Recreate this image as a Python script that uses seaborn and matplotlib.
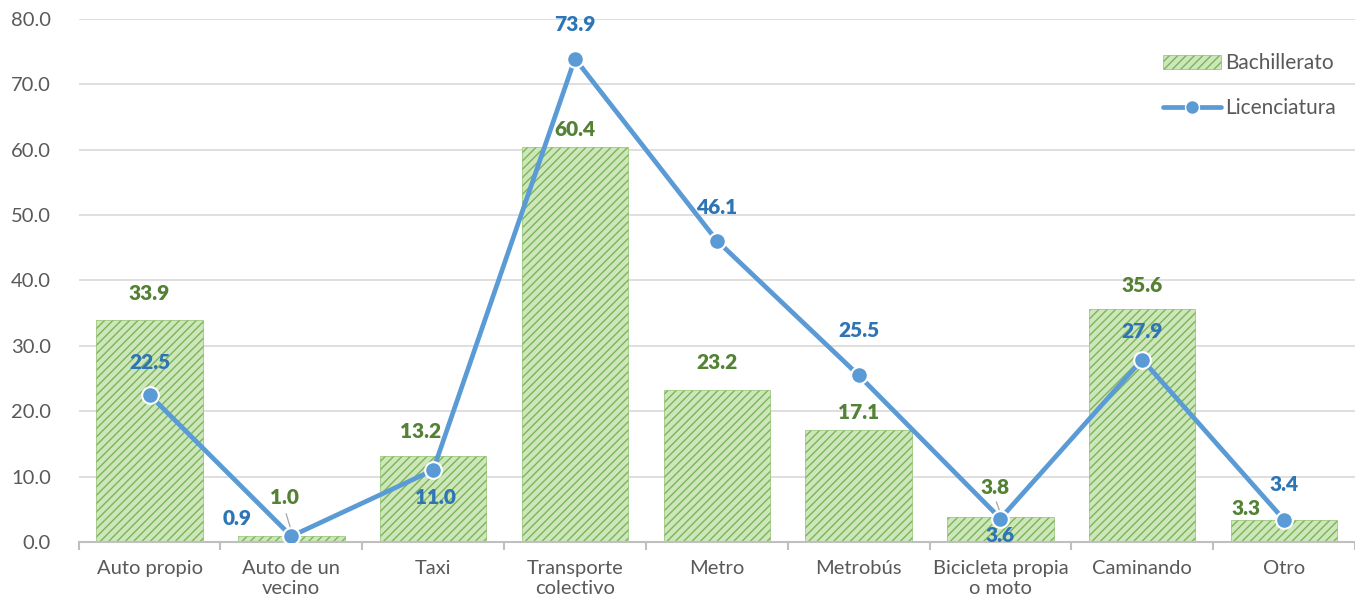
"""
Medio de transporte: Bachillerato vs Licenciatura
"""
import numpy as np
import pandas as pd
import matplotlib
matplotlib.use("Agg")
import matplotlib.pyplot as plt
import seaborn as sns
from matplotlib.patches import Patch
from matplotlib.lines import Line2D

# data
categories = ["Auto propio", "Auto de un\nvecino", "Taxi", "Transporte\ncolectivo", "Metro",
              "Metrobús", "Bicicleta propia\no moto", "Caminando", "Otro"]
bachillerato = [33.9, 1.0, 13.2, 60.4, 23.2, 17.1, 3.8, 35.6, 3.3]
licenciatura = [22.5, 0.9, 11.0, 73.9, 46.1, 25.5, 3.6, 27.9, 3.4]
y_ticks = [0, 10, 20, 30, 40, 50, 60, 70, 80]

# label offsets in pixels (dx, dy)
bach_offsets = [(0, 27), (-7, 38), (-13, 24), (0, 17), (0, 28), (0, 18), (-5, 30), (0, 24), (-38, 12)]
lic_offsets = [(0, 32), (-54, 18), (2, -27), (0, 34), (0, 33), (0, 45), (0, -17), (0, 28), (0, 35)]

BAR_FILL = "#cde6bb"
BAR_HATCH = "#7cb556"
LINE_COLOR = "#5b9bd5"
GREEN_TXT = "#548235"
BLUE_TXT = "#2e75b6"
GRAY_TXT = "#595959"
HATCH = "////"

sns.set_theme(style="white")
plt.rcParams["font.family"] = ["Lato", "DejaVu Sans"]
plt.rcParams["hatch.linewidth"] = 1.0

df = pd.DataFrame({"cat": categories, "bach": bachillerato, "lic": licenciatura})
x = np.arange(len(categories))

fig = plt.figure(figsize=(13.55, 6.05), dpi=100)
ax = fig.add_axes([0.058, 0.104, 0.942, 0.865])

sns.barplot(data=df, x="cat", y="bach", color=BAR_FILL, saturation=1, width=0.75, ax=ax, zorder=2)
for p in ax.patches:
    p.set_hatch(HATCH)
    p.set_edgecolor(BAR_HATCH)
    p.set_linewidth(0.4)

sns.lineplot(x=x, y=df["lic"], sort=False, color=LINE_COLOR, linewidth=3.4, marker="o",
             markersize=12, markerfacecolor=LINE_COLOR, markeredgecolor="white",
             markeredgewidth=1.5, ax=ax, zorder=4)

for i, v in enumerate(bachillerato):
    ax.annotate(f"{v:.1f}", (i, v), xytext=bach_offsets[i], textcoords="offset pixels",
                ha="center", va="center", fontsize=15, fontweight="heavy", color=GREEN_TXT, zorder=5)
for i, v in enumerate(licenciatura):
    ax.annotate(f"{v:.1f}", (i, v), xytext=lic_offsets[i], textcoords="offset pixels",
                ha="center", va="center", fontsize=15, fontweight="heavy", color=BLUE_TXT, zorder=5)

# small leader lines like the original
ax.annotate("", (1, licenciatura[1] + 0.8), xytext=(-6, 20), textcoords="offset pixels",
            arrowprops=dict(arrowstyle="-", color="#a6a6a6", lw=0.9), zorder=3)
ax.annotate("", (6, licenciatura[6] + 0.8), xytext=(-5, 14), textcoords="offset pixels",
            arrowprops=dict(arrowstyle="-", color="#a6a6a6", lw=0.9), zorder=3)

ax.set_xlim(-0.5, 8.46)
ax.set_ylim(0, 80)
ax.set_yticks(y_ticks)
ax.set_yticklabels([f"{t:.1f}" for t in y_ticks])
ax.yaxis.grid(True, color="#d9d9d9", linewidth=1.2, zorder=0)
ax.set_axisbelow(True)
ax.set_xlabel("")
ax.set_ylabel("")

for s in ["top", "right", "left"]:
    ax.spines[s].set_visible(False)
ax.spines["bottom"].set_color("#bfbfbf")
ax.spines["bottom"].set_linewidth(1.5)

ax.set_xticks(x)
ax.set_xticklabels(categories)
ax.set_xticks(np.arange(-0.5, 8.6, 1.0), minor=True)
ax.tick_params(axis="x", which="major", length=0, labelsize=14.5, labelcolor=GRAY_TXT, pad=13)
ax.tick_params(axis="x", which="minor", length=6, width=1.5, color="#bfbfbf", direction="out")
ax.tick_params(axis="y", length=0, labelsize=14.5, labelcolor=GRAY_TXT, pad=20)
ax.tick_params(axis="x", which="both", bottom=True)

handles = [
    Patch(facecolor=BAR_FILL, edgecolor=BAR_HATCH, hatch=HATCH, linewidth=0.4, label="Bachillerato"),
    Line2D([0], [0], color=LINE_COLOR, linewidth=3.4, marker="o", markersize=10,
           markerfacecolor=LINE_COLOR, markeredgecolor="white", label="Licenciatura"),
]
leg = ax.legend(handles=handles, loc="upper right", bbox_to_anchor=(1.0, 0.97), frameon=False,
                fontsize=15, labelspacing=1.2, handlelength=2.8, handletextpad=0.2)
for t in leg.get_texts():
    t.set_color(GRAY_TXT)

fig.savefig("out.png", dpi=100)
